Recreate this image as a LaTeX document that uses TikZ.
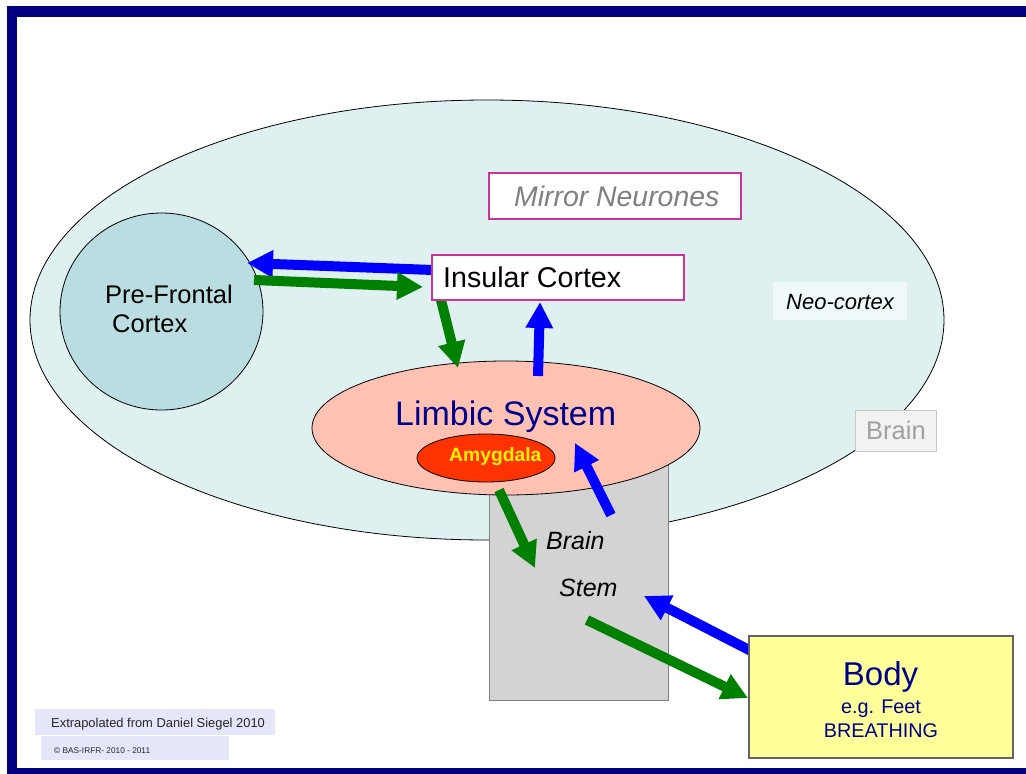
\documentclass[tikz,border=0pt]{standalone}
\usepackage{fontspec}
\setmainfont{Liberation Sans}
\usetikzlibrary{arrows.meta,shapes.geometric}
\definecolor{frame}{RGB}{0,0,128}
\definecolor{neofill}{RGB}{223,240,240}
\definecolor{pfcfill}{RGB}{185,221,224}
\definecolor{limbfill}{RGB}{255,193,178}
\definecolor{amyfill}{RGB}{255,51,0}
\definecolor{stemfill}{RGB}{211,211,211}
\definecolor{stemline}{RGB}{128,128,128}
\definecolor{pinkline}{RGB}{204,51,153}
\definecolor{navytext}{RGB}{0,0,140}
\definecolor{mirrortext}{RGB}{128,128,128}
\definecolor{neobox}{RGB}{240,249,249}
\definecolor{brainbox}{RGB}{242,242,242}
\definecolor{brainline}{RGB}{200,200,200}
\definecolor{braintext}{RGB}{160,160,160}
\definecolor{bodyfill}{RGB}{255,255,153}
\definecolor{bodyline}{RGB}{100,100,100}
\definecolor{notefill}{RGB}{230,230,250}
\definecolor{arrblue}{RGB}{0,0,255}
\definecolor{arrgreen}{RGB}{0,128,0}
\newcommand\fsz[1]{\fontsize{#1}{#1}\selectfont}
\begin{document}
\begin{tikzpicture}[x=1pt,y=-1pt,
  txt/.style={inner sep=0pt, anchor=base west},
  ctxt/.style={inner sep=0pt, anchor=base},
  blob/.style={ellipse, draw=black, line width=0.8pt, inner sep=0pt},
  pinkbox/.style={rectangle, draw=pinkline, line width=1.2pt, fill=white, inner sep=0pt},
  plainbox/.style={rectangle, inner sep=0pt},
  fatarrow/.style={line width=10pt, -{Triangle[length=26pt,width=26pt]}},
]
\useasboundingbox (0,0) rectangle (1026,774);
\fill[white] (0,0) rectangle (1026,774);
\fill[frame] (7,6) rectangle (1026,17);
\fill[frame] (7,6) rectangle (17,774);
\fill[frame] (7,768) rectangle (1026,774);

% shapes
\node[blob, fill=neofill, minimum width=914pt, minimum height=440pt] (neo) at (487,320) {};
\node[plainbox, draw=stemline, fill=stemfill, line width=1pt, minimum width=179pt, minimum height=260pt] (stem) at (578.5,570) {};
\node[blob, fill=limbfill, minimum width=388pt, minimum height=134pt] (limbic) at (506,428) {};
\node[blob, fill=amyfill, minimum width=138pt, minimum height=48pt] (amyg) at (486,458) {};
\node[blob, fill=pfcfill, minimum width=203pt, minimum height=197pt] (pfc) at (161.5,311.5) {};

% arrow end points
\coordinate (a1s) at (438,270.2);  \coordinate (a1e) at (247,263);
\coordinate (a2s) at (254,280);    \coordinate (a2e) at (423,287);
\coordinate (a3s) at (440,296);    \coordinate (a3e) at (458,368);
\coordinate (a4s) at (538,376);    \coordinate (a4e) at (540,302);
\coordinate (a5s) at (499,490);    \coordinate (a5e) at (535,568);
\coordinate (a6s) at (611,515);    \coordinate (a6e) at (575,443);
\coordinate (a7s) at (755,653);    \coordinate (a7e) at (644,596);
\coordinate (a8s) at (587,620);    \coordinate (a8e) at (748,698);

\draw[fatarrow, arrblue] (a1s) -- (a1e);
\draw[fatarrow, arrgreen] (a2s) -- (a2e);
\draw[fatarrow, arrgreen] (a3s) -- (a3e);
\draw[fatarrow, arrblue] (a4s) -- (a4e);
\draw[fatarrow, arrgreen] (a5s) -- (a5e);
\draw[fatarrow, arrblue] (a6s) -- (a6e);
\draw[fatarrow, arrblue] (a7s) -- (a7e);
\draw[fatarrow, arrgreen] (a8s) -- (a8e);

% boxes
\node[pinkbox, minimum width=252pt, minimum height=45pt] (insular) at (558,277.5) {};
\node[pinkbox, minimum width=252pt, minimum height=46pt] (mirror) at (615,196) {};
\node[plainbox, fill=neobox, minimum width=134pt, minimum height=38pt] (neolbl) at (840,301) {};
\node[plainbox, fill=brainbox, draw=brainline, line width=1pt, minimum width=81pt, minimum height=41pt] (brainlbl) at (895.5,430.5) {};
\node[plainbox, fill=bodyfill, draw=bodyline, line width=1.5pt, minimum width=264pt, minimum height=122pt] (body) at (881,697) {};
\node[plainbox, fill=notefill, minimum width=240pt, minimum height=26pt] (note1) at (155,722) {};
\node[plainbox, fill=notefill, minimum width=188pt, minimum height=24pt] (note2) at (135,748) {};

% texts
\node[txt] (tpfc1) at (105,303) {\fsz{25.5}Pre-Frontal};
\node[txt] (tpfc2) at (112,332) {\fsz{25.5}Cortex};
\node[txt] (tins) at (443,287) {\fsz{28.6}Insular Cortex};
\node[txt, text=mirrortext] (tmir) at (514,206) {\fsz{28.4}\itshape Mirror Neurones};
\node[txt] (tneo) at (786,309) {\fsz{22}\itshape Neo-cortex};
\node[txt, text=navytext] (tlim) at (395,425) {\fsz{34}Limbic System};
\node[txt, text=yellow] (tamy) at (449,461) {\fsz{19.3}\bfseries Amygdala};
\node[txt] (tbr) at (546,549) {\fsz{25}\itshape Brain};
\node[txt] (tst) at (559,596) {\fsz{25}\itshape Stem};
\node[txt, text=braintext] (tbl) at (866,439.5) {\fsz{25.5}Brain};
\node[ctxt, text=navytext] (tbody) at (880.5,685) {\fsz{33}Body};
\node[ctxt, text=navytext] (teg) at (881,713) {\fsz{19.8}e.g. Feet};
\node[ctxt, text=navytext] (tbreath) at (881,737) {\fsz{19.8}BREATHING};
\node[txt, text=black!85] (tn1) at (51,727) {\fsz{12.9}Extrapolated from Daniel Siegel 2010};
\node[txt, text=black!85] (tn2) at (54,753) {\fsz{8.3}© BAS-IRFR- 2010 - 2011};
\end{tikzpicture}
\end{document}
